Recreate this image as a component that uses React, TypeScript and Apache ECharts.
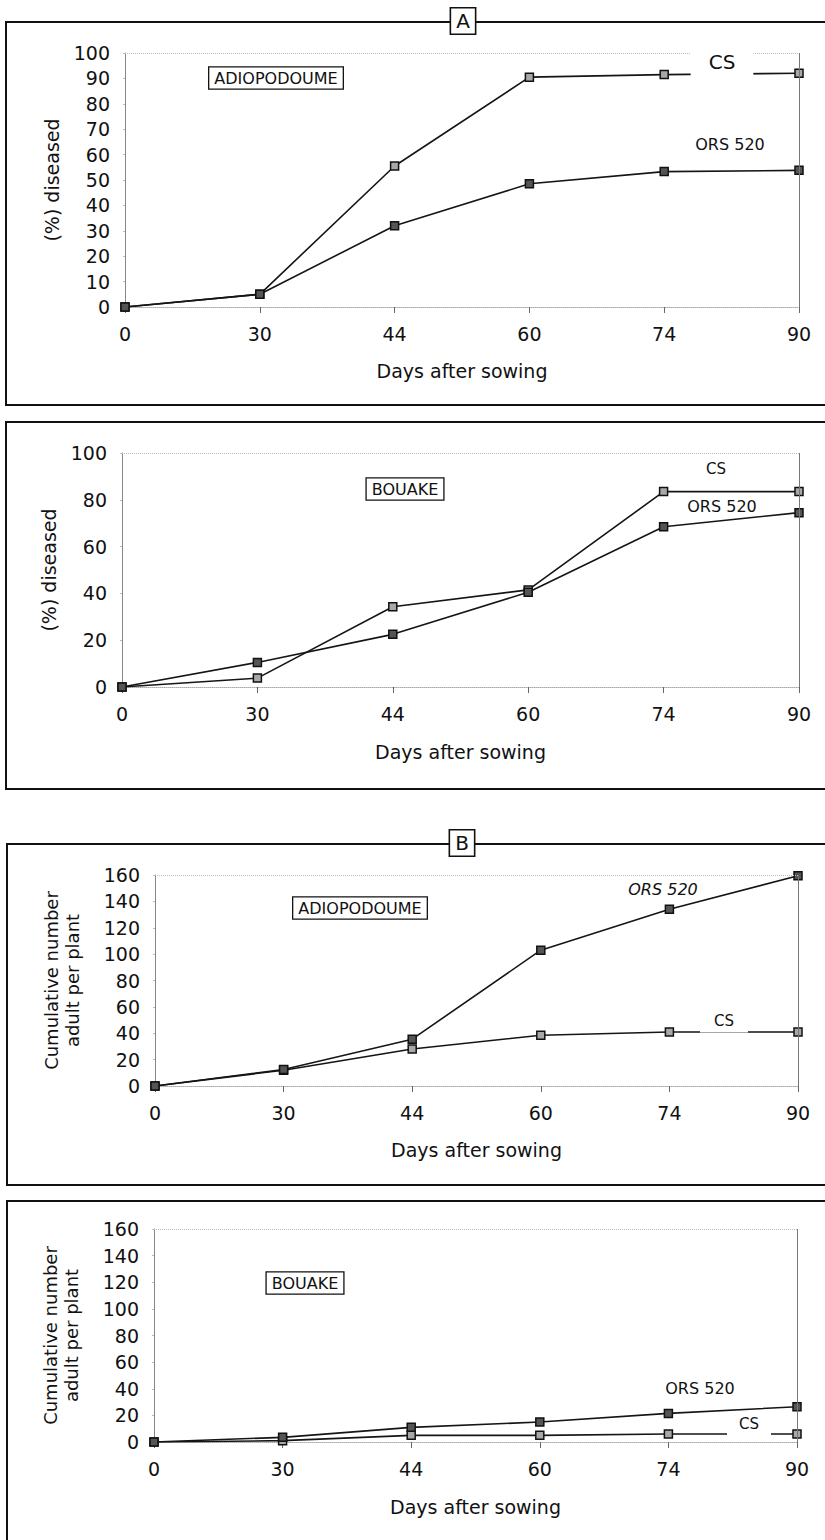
import React, { useEffect, useRef } from 'react';
import * as echarts from 'echarts';

const days = ['0', '30', '44', '60', '74', '90'];

// Panel A, Adiopodoume: % diseased
const aAdioCS = [0, 5, 55.5, 90.5, 91.5, 92];
const aAdioORS = [0, 5, 32, 48.5, 53.3, 53.8];
// Panel A, Bouake: % diseased
const aBouCS = [0, 3.8, 34.3, 41.5, 83.5, 83.5];
const aBouORS = [0, 10.5, 22.5, 40.5, 68.5, 74.5];
// Panel B, Adiopodoume: cumulative adults per plant
const bAdioORS = [0, 12.5, 35.5, 103, 134, 159.5];
const bAdioCS = [0, 12, 28, 38.5, 41, 41];
// Panel B, Bouake
const bBouORS = [0, 3.5, 11, 15, 21.5, 26.5];
const bBouCS = [0, 1, 5, 5, 6, 6];

const yMax = [100, 100, 160, 160];
const yInterval = [10, 20, 20, 20];
const yNames = ['(%) diseased', '(%) diseased', 'Cumulative number\nadult per plant', 'Cumulative number\nadult per plant'];
const xName = 'Days after sowing';

const FONT = '"DejaVu Sans", "Liberation Sans", Arial, sans-serif';

const grids = [
  { left: 125, top: 53, width: 674, height: 254 },
  { left: 122, top: 453, width: 677, height: 234 },
  { left: 155, top: 875, width: 643, height: 211 },
  { left: 154, top: 1229, width: 643, height: 213 },
];
const yNameGaps = [62, 60, 72, 72];
const xNameGaps = [54, 55, 54, 55];

const panelData = [
  [aAdioCS, aAdioORS],
  [aBouCS, aBouORS],
  [bAdioCS, bAdioORS],
  [bBouCS, bBouORS],
];

function buildOption() {
  const xAxis: any[] = [];
  const yAxis: any[] = [];
  const series: any[] = [];
  grids.forEach((g, i) => {
    xAxis.push({
      gridIndex: i,
      type: 'category',
      data: days,
      boundaryGap: false,
      name: xName,
      nameLocation: 'middle',
      nameGap: xNameGaps[i],
      nameTextStyle: { fontFamily: FONT, fontSize: 19, color: '#111' },
      axisLine: { show: true, lineStyle: { color: '#aaa', type: 'dotted', width: 1 } },
      axisTick: { show: true, length: 6, lineStyle: { color: '#666', width: 1 } },
      axisLabel: { fontFamily: FONT, fontSize: 19, color: '#111', margin: 17 },
      splitLine: { show: false },
    });
    yAxis.push({
      gridIndex: i,
      type: 'value',
      min: 0,
      max: yMax[i],
      interval: yInterval[i],
      name: yNames[i],
      nameLocation: 'middle',
      nameGap: yNameGaps[i],
      nameRotate: 90,
      nameTextStyle: { fontFamily: FONT, fontSize: i < 2 ? 19 : 18, color: '#111', lineHeight: 21 },
      axisLine: { show: true, lineStyle: { color: '#888', width: 1 } },
      axisTick: { show: true, length: 2, lineStyle: { color: '#bbb' } },
      axisLabel: { fontFamily: FONT, fontSize: 19, color: '#111', margin: 15 },
      splitLine: { show: false },
    });
    const [cs, ors] = panelData[i];
    const common = {
      type: 'line',
      xAxisIndex: i,
      yAxisIndex: i,
      symbol: 'rect',
      symbolSize: 8,
      lineStyle: { color: '#151515', width: 1.6 },
      z: 3,
    };
    series.push({
      ...common,
      name: 'CS',
      data: cs,
      itemStyle: { color: '#a8a8a8', borderColor: '#111', borderWidth: 1.5 },
      markLine: {
        silent: true,
        symbol: 'none',
        label: { show: false },
        data: [
          { xAxis: '90', lineStyle: { color: '#777', type: 'solid', width: 1 } },
          { yAxis: yMax[i], lineStyle: { color: '#bbb', type: 'dotted', width: 1 } },
        ],
      },
    });
    series.push({
      ...common,
      name: 'ORS 520',
      data: ors,
      itemStyle: { color: '#555', borderColor: '#111', borderWidth: 1.5 },
    });
  });

  const txt = (text: string, x: number, y: number, size: number, extra: any = {}) => ({
    type: 'text',
    x,
    y,
    z: 100,
    style: {
      text,
      font: `${extra.italic ? 'italic ' : ''}${size}px ${FONT}`,
      fill: '#111',
      align: 'center',
      verticalAlign: 'middle',
      ...(extra.style || {}),
    },
  });
  const boxed = { backgroundColor: '#fff', borderColor: '#111', borderWidth: 1.3, padding: [3, 5, 2, 5] };
  const gap = (p: number[]) => ({ backgroundColor: '#fff', padding: p });

  const frames = [
    { x: 6, y: 22, width: 830, height: 383 },
    { x: 6, y: 422, width: 830, height: 367 },
    { x: 7, y: 844, width: 830, height: 341 },
    { x: 7, y: 1201, width: 830, height: 360 },
  ].map((s) => ({
    type: 'rect',
    z: 50,
    shape: s,
    style: { fill: 'none', stroke: '#111', lineWidth: 2 },
  }));

  const graphic = [
    ...frames,
    txt('A', 463, 21, 20, { style: { ...boxed, borderWidth: 1.6, padding: [3, 5, 2, 5] } }),
    txt('B', 462, 843, 20, { style: { ...boxed, borderWidth: 1.6, padding: [3, 5, 2, 5] } }),
    txt('ADIOPODOUME', 276, 78, 16, { style: boxed }),
    txt('BOUAKE', 405, 489, 16, { style: boxed }),
    txt('ADIOPODOUME', 360, 908, 16, { style: boxed }),
    txt('BOUAKE', 305, 1283, 16, { style: boxed }),
    txt('CS', 722, 62, 20, { style: gap([4, 18, 4, 18]) }),
    txt('ORS 520', 730, 144, 16),
    txt('CS', 716, 469, 15),
    txt('ORS 520', 722, 506, 16, { style: gap([2, 4, 2, 4]) }),
    txt('ORS 520', 663, 889, 16, { italic: true, style: gap([2, 4, 4, 4]) }),
    txt('CS', 724, 1021, 15, { style: gap([4, 14, 4, 14]) }),
    txt('ORS 520', 700, 1388, 16),
    txt('CS', 749, 1424, 15, { style: gap([4, 12, 4, 12]) }),
  ];

  return {
    animation: false,
    backgroundColor: '#fff',
    textStyle: { fontFamily: FONT },
    grid: grids.map((g) => ({ ...g, containLabel: false })),
    xAxis,
    yAxis,
    series,
    graphic,
  };
}

export default function App() {
  const ref = useRef<HTMLDivElement>(null);
  useEffect(() => {
    const chart = echarts.init(ref.current!, null, { renderer: 'svg' });
    chart.setOption(buildOption() as any);
    return () => chart.dispose();
  }, []);
  return (
    <div
      ref={ref}
      style={{ position: 'absolute', left: 0, top: 0, width: 825, height: 1540, background: '#fff' }}
    />
  );
}
